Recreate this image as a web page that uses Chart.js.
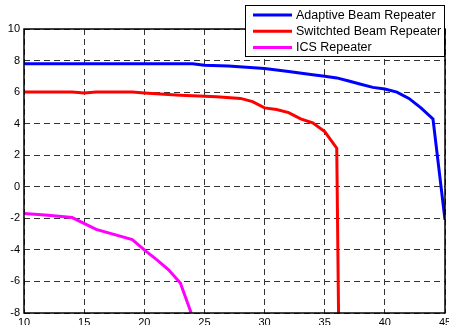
<!DOCTYPE html>
<html lang="en">
  <head>
    <meta charset="UTF-8" />
    <title>Repeater comparison</title>
    <script src="https://cdn.jsdelivr.net/npm/chart.js"></script>
    <style>
      html,
      body {
        margin: 0;
        padding: 0;
        background: #ffffff;
      }
      #wrap {
        width: 449px;
        height: 325px;
      }
    </style>
  </head>
  <body>
    <div id="wrap"><canvas id="chart"></canvas></div>
    <script>
      // Series (x, y)
      const adaptiveX = [10, 15, 20, 24, 25, 27, 30, 31, 32, 34, 35, 36, 37, 38, 39, 40, 41, 42, 43, 44, 45];
      const adaptiveY = [7.8, 7.8, 7.8, 7.8, 7.7, 7.65, 7.5, 7.4, 7.3, 7.1, 7.0, 6.9, 6.7, 6.5, 6.3, 6.2, 6.0, 5.6, 5.0, 4.3, -2.1];

      const switchedX = [10, 14, 15, 16, 19, 20, 23, 26, 28, 29, 30, 31, 32, 33, 34, 35, 36, 36.15];
      const switchedY = [6.0, 6.0, 5.95, 6.0, 6.0, 5.95, 5.8, 5.7, 5.6, 5.4, 5.0, 4.9, 4.7, 4.3, 4.05, 3.5, 2.45, -8];

      const icsX = [10, 12, 14, 16, 19, 20, 21, 22, 23, 23.9];
      const icsY = [-1.7, -1.8, -1.95, -2.7, -3.35, -4.0, -4.6, -5.25, -6.1, -8];

      const seriesLabels = ["Adaptive Beam Repeater", "Switchted Beam Repeater", "ICS Repeater"];
      const seriesColors = ["#0000ff", "#ff0000", "#ff00ff"];

      const toPoints = (xs, ys) => xs.map((x, i) => ({ x: x, y: ys[i] }));

      const FONT = "'Liberation Sans', Arial, sans-serif";

      // box round the plot + legend drawn inside the plot (matlab style)
      const boxAndLegend = {
        id: "boxAndLegend",
        afterDraw(chart) {
          const { ctx, chartArea } = chart;
          ctx.save();
          ctx.strokeStyle = "#000";
          ctx.lineWidth = 1.5;
          ctx.strokeRect(chartArea.left, chartArea.top, chartArea.right - chartArea.left, chartArea.bottom - chartArea.top);

          // legend box
          const lx = 245, ly = 5, lw = 199, lh = 51;
          ctx.fillStyle = "#fff";
          ctx.fillRect(lx, ly, lw, lh);
          ctx.lineWidth = 1;
          ctx.strokeRect(lx + 0.5, ly + 0.5, lw, lh);

          ctx.font = "12.5px " + FONT;
          ctx.textBaseline = "middle";
          chart.data.datasets.forEach((ds, i) => {
            const y = 15 + i * 16.2;
            ctx.strokeStyle = ds.borderColor;
            ctx.lineWidth = 3;
            ctx.beginPath();
            ctx.moveTo(253, y);
            ctx.lineTo(292, y);
            ctx.stroke();
            ctx.fillStyle = "#000";
            ctx.fillText(ds.label, 296, y + 0.5);
          });
          ctx.restore();
        },
      };

      const gridOpts = {
        color: "#333",
        lineWidth: 1,
        drawTicks: false,
      };

      new Chart(document.getElementById("chart"), {
        type: "line",
        data: {
          datasets: [
            { label: seriesLabels[0], data: toPoints(adaptiveX, adaptiveY), borderColor: seriesColors[0] },
            { label: seriesLabels[1], data: toPoints(switchedX, switchedY), borderColor: seriesColors[1] },
            { label: seriesLabels[2], data: toPoints(icsX, icsY), borderColor: seriesColors[2] },
          ],
        },
        options: {
          responsive: true,
          maintainAspectRatio: false,
          animation: false,
          layout: { padding: { top: 29, right: 4, left: 0, bottom: 0 } },
          elements: {
            line: { borderWidth: 3, tension: 0, fill: false },
            point: { radius: 0 },
          },
          plugins: {
            legend: { display: false },
            tooltip: { enabled: false },
          },
          scales: {
            x: {
              type: "linear",
              min: 10,
              max: 45,
              ticks: { stepSize: 5, color: "#000", padding: 3, font: { family: FONT, size: 11 } },
              grid: gridOpts,
              border: { dash: [6, 4], display: false },
              afterFit: (s) => {
                s.height = 12;
                s.paddingLeft = 0;
                s.paddingRight = 0;
              },
            },
            y: {
              min: -8,
              max: 10,
              ticks: { stepSize: 2, color: "#000", padding: 4, font: { family: FONT, size: 11 } },
              grid: gridOpts,
              border: { dash: [6, 4], display: false },
              afterFit: (s) => {
                s.width = 24;
                s.paddingTop = 0;
                s.paddingBottom = 0;
              },
            },
          },
        },
        plugins: [boxAndLegend],
      });
    </script>
  </body>
</html>
